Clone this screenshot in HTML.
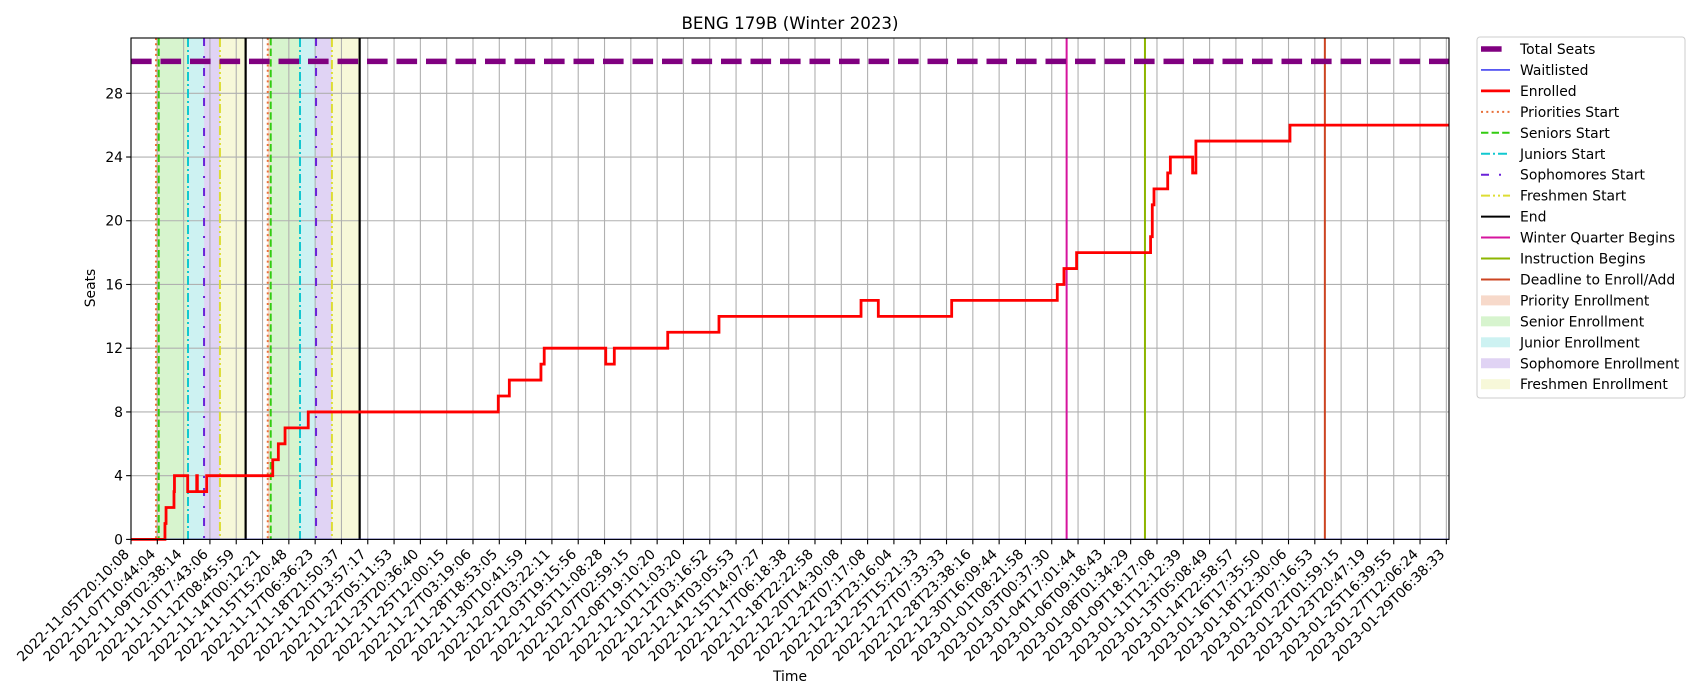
<!DOCTYPE html>
<html><head><meta charset="utf-8">
<style>
html,body{margin:0;padding:0;background:#fff;}
svg{display:block;font-family:"DejaVu Sans","Liberation Sans",sans-serif;}
</style></head>
<body>
<svg id="chart" width="1700" height="700" viewBox="0 0 1700 700" xmlns="http://www.w3.org/2000/svg">
<text x="790" y="29" font-size="16.7" text-anchor="middle">BENG 179B (Winter 2023)</text>
<text x="0" y="0" font-size="13.9" text-anchor="middle" transform="translate(95,288) rotate(-90)">Seats</text>
<text x="790" y="681" font-size="13.9" text-anchor="middle">Time</text>
<g id="plot"></g>
<g id="legend"></g>
</svg>
<script>
// ---- data ----
const tickLabels = ["2022-11-05T20:10:08","2022-11-07T10:44:04","2022-11-09T02:38:14","2022-11-10T17:43:06","2022-11-12T08:45:59","2022-11-14T00:12:21","2022-11-15T15:20:48","2022-11-17T06:36:23","2022-11-18T21:50:37","2022-11-20T13:57:17","2022-11-22T05:11:53","2022-11-23T20:36:40","2022-11-25T12:00:15","2022-11-27T03:19:06","2022-11-28T18:53:05","2022-11-30T10:41:59","2022-12-02T03:22:11","2022-12-03T19:15:56","2022-12-05T11:08:28","2022-12-07T02:59:15","2022-12-08T19:10:20","2022-12-10T11:03:20","2022-12-12T03:16:52","2022-12-14T03:05:53","2022-12-15T14:07:27","2022-12-17T06:18:38","2022-12-18T22:22:58","2022-12-20T14:30:08","2022-12-22T07:17:08","2022-12-23T23:16:04","2022-12-25T15:21:33","2022-12-27T07:33:33","2022-12-28T23:38:16","2022-12-30T16:09:44","2023-01-01T08:21:58","2023-01-03T00:37:30","2023-01-04T17:01:44","2023-01-06T09:18:43","2023-01-08T01:34:29","2023-01-09T18:17:08","2023-01-11T12:12:39","2023-01-13T05:08:49","2023-01-14T22:58:57","2023-01-16T17:35:50","2023-01-18T12:30:06","2023-01-20T07:16:53","2023-01-22T01:59:15","2023-01-23T20:47:19","2023-01-25T16:39:55","2023-01-27T12:06:24","2023-01-29T06:38:33"];
const tickStepDays = 1.689;
const xMaxDays = 84.62;
const yTicks = [0,4,8,12,16,20,24,28];
const yMax = 31.47;
const totalSeats = 30;
const enrolledDays = [0,2.18,2.25,2.76,2.79,3.64,4.22,4.26,4.86,9.10,9.46,9.89,11.38,23.58,24.29,26.32,26.53,30.48,31.03,34.46,37.75,46.87,47.98,52.69,59.47,59.90,60.71,65.46,65.57,65.68,66.56,66.73,68.16,68.37,74.41];
const enrolledValues = [0,1,2,3,4,3,4,3,4,5,6,7,8,9,10,11,12,11,12,13,14,15,14,15,16,17,18,19,21,22,23,24,23,25,26];
const waitlistDays = [0, 84.62];
const waitlistValues = [0, 0];
const prioritiesStart = [1.605, 8.78];
const seniorsStart = [1.78, 8.97];
const juniorsStart = [3.66, 10.85];
const sophomoresStart = [4.69, 11.88];
const freshmenStart = [5.71, 12.90];
const periodEnd = [7.36, 14.68];
const winterBegins = 60.07;
const instructionBegins = 65.10;
const deadlineAdd = 76.65;

// ---- axes ----
const L=131,R=1449,T=38,B=539.4;
const xs = d => L + (d/xMaxDays)*(R-L);
const ys = v => B - (v/yMax)*(B-T);
const NS="http://www.w3.org/2000/svg";
const plot=document.getElementById('plot');
function mk(tag,attrs,parent){const e=document.createElementNS(NS,tag);for(const k in attrs)e.setAttribute(k,attrs[k]);(parent||plot).appendChild(e);return e;}

// shaded spans
const spanDefs=[[prioritiesStart,seniorsStart,'#f4c9b3','priority-enrollment-span'],[seniorsStart,juniorsStart,'#c6efb9','senior-enrollment-span'],[juniorsStart,sophomoresStart,'#b8ecec','junior-enrollment-span'],[sophomoresStart,freshmenStart,'#d3c0f0','sophomore-enrollment-span'],[freshmenStart,periodEnd,'#f3f5c9','freshmen-enrollment-span']];
spanDefs.forEach(([a,b,c,n])=>{for(let i=0;i<a.length;i++){const r=mk('rect',{x:xs(a[i]),y:T,width:xs(b[i])-xs(a[i]),height:B-T,fill:c,'fill-opacity':0.7});

}});

// grid
tickLabels.forEach((t,i)=>{const x=xs(i*tickStepDays);const g=mk('line',{x1:x,x2:x,y1:T,y2:B,stroke:'#b0b0b0','stroke-width':1.1});

});
yTicks.forEach(v=>{const y=ys(v);const g=mk('line',{x1:L,x2:R,y1:y,y2:y,stroke:'#b0b0b0','stroke-width':1.1});

});

// event vertical lines
function vline(d,color,dash,w,name){const x=xs(d);const l=mk('line',{x1:x,x2:x,y1:T,y2:B,stroke:color,'stroke-width':w});if(dash)l.setAttribute('stroke-dasharray',dash);

}
prioritiesStart.forEach(d=>vline(d,'#e8703a','2,3.3',2,'priorities-start-line'));
seniorsStart.forEach(d=>vline(d,'#33cc11','7.4,3.2',2,'seniors-start-line'));
juniorsStart.forEach(d=>vline(d,'#11c8d0','9,3,2,3',2,'juniors-start-line'));
sophomoresStart.forEach(d=>vline(d,'#6a22d8','8,10,2,10',2,'sophomores-start-line'));
freshmenStart.forEach(d=>vline(d,'#dddd33','9,3,2,3,2,3',2,'freshmen-start-line'));
periodEnd.forEach(d=>vline(d,'#000','',2.2,'end-line'));
vline(winterBegins,'#d6149e','',2,'winter-quarter-begins-line');
vline(instructionBegins,'#8db600','',2,'instruction-begins-line');
vline(deadlineAdd,'#cc4422','',2,'deadline-enroll-add-line');

// total seats
const ts=mk('line',{x1:L,x2:R,y1:ys(totalSeats),y2:ys(totalSeats),stroke:'#800080','stroke-width':5.5,'stroke-dasharray':'20.6,8.9'});



// waitlisted
function stepPath(ds,vs){let p='M'+xs(ds[0])+','+ys(vs[0]);for(let i=1;i<ds.length;i++){p+=' H'+xs(ds[i])+' V'+ys(vs[i]);}p+=' H'+xs(xMaxDays);return p;}
const wl=mk('path',{d:stepPath(waitlistDays,waitlistValues),fill:'none',stroke:'#2020ee','stroke-width':1.3});


const en=mk('path',{d:stepPath(enrolledDays,enrolledValues),fill:'none',stroke:'#ff0000','stroke-width':2.8,'stroke-linejoin':'miter'});



// spines
const fr=mk('rect',{x:L,y:T,width:R-L,height:B-T,fill:'none',stroke:'#000','stroke-width':1.1});



// ticks
tickLabels.forEach((t,i)=>{const x=xs(i*tickStepDays);const tk=mk('line',{x1:x,x2:x,y1:B,y2:B+4.9,stroke:'#000','stroke-width':1.1});


const tx=mk('text',{x:0,y:0,'font-size':13.9,'text-anchor':'end',transform:'translate('+(x-1)+','+555+') rotate(-45)'});tx.textContent=t;

});
yTicks.forEach(v=>{const y=ys(v);const tk=mk('line',{x1:L-4.9,x2:L,y1:y,y2:y,stroke:'#000','stroke-width':1.1});


const tx=mk('text',{x:L-8,y:y+5,'font-size':13.9,'text-anchor':'end'});tx.textContent=v;

});

// legend
const lg=document.getElementById('legend');
const box=mk('rect',{x:1477,y:37,width:208,height:361,rx:3,fill:'#fff',stroke:'#cccccc','stroke-width':1},lg);


const items=[
['Total Seats','line','#800080','20.6,8.9',5.5],
['Waitlisted','line','#2020ee','',1.3],
['Enrolled','line','#ff0000','',2.8],
['Priorities Start','line','#e8703a','2,3.3',2],
['Seniors Start','line','#33cc11','7.4,3.2',2],
['Juniors Start','line','#11c8d0','9,3,2,3',2],
['Sophomores Start','line','#6a22d8','8,10,2,10',2],
['Freshmen Start','line','#dddd33','9,3,2,3,2,3',2],
['End','line','#000','',2],
['Winter Quarter Begins','line','#d6149e','',2],
['Instruction Begins','line','#8db600','',2],
['Deadline to Enroll/Add','line','#cc4422','',2],
['Priority Enrollment','patch','#f4c9b3'],
['Senior Enrollment','patch','#c6efb9'],
['Junior Enrollment','patch','#b8ecec'],
['Sophomore Enrollment','patch','#d3c0f0'],
['Freshmen Enrollment','patch','#f3f5c9']];
items.forEach((it,i)=>{const cy=49+i*20.95;const g=mk('g',{},lg);


if(it[1]==='line'){const l=mk('line',{x1:1481,x2:1510,y1:cy,y2:cy,stroke:it[2],'stroke-width':it[4]},g);if(it[3])l.setAttribute('stroke-dasharray',it[3]);}
else{mk('rect',{x:1481,y:cy-5,width:29,height:10,fill:it[2],'fill-opacity':0.7},g);}
const t=mk('text',{x:1520,y:cy+5,'font-size':13.9},g);t.textContent=it[0];});
</script>
</body></html>
